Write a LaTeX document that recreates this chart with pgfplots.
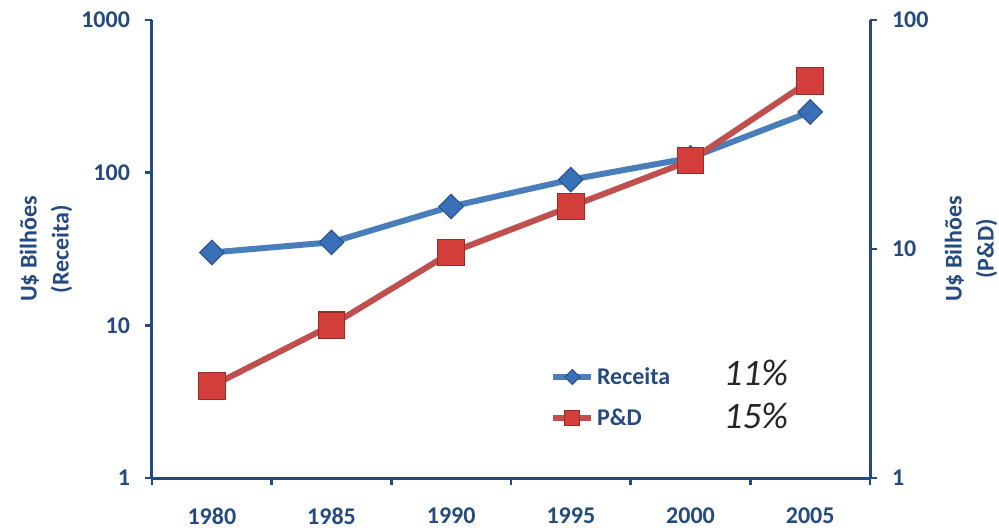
\documentclass[border=0pt]{standalone}
\usepackage{pgfplots}
\pgfplotsset{compat=1.18}
\usepackage{fontspec}
\setmainfont{Carlito}
\definecolor{axblue}{HTML}{254A80}
\definecolor{recline}{HTML}{4A7EBB}
\definecolor{recmark}{HTML}{3A70B8}
\definecolor{pdline}{HTML}{C0504D}
\definecolor{pdmark}{HTML}{D43F3C}
\definecolor{pctgray}{HTML}{262626}
\pgfplotsset{
 myaxisbase/.style={
  width=538.5pt, height=343.5pt, scale only axis,
  xmin=-0.5, xmax=5.5,
  axis line style={axblue, line width=2.25pt},
  every tick/.style={axblue, line width=2pt},
  major tick length=5pt,
  tick align=outside,
  yminorticks=false,
  tick label style={font=\fontsize{18}{21}\selectfont\bfseries, text=axblue},
  label style={font=\fontsize{18}{24}\selectfont\bfseries, text=axblue, align=center},
 }
}
\begin{document}
\begin{tikzpicture}
\begin{axis}[myaxisbase, ymode=log, name=ax,
  ymin=1, ymax=1000,
  axis x line*=bottom, axis y line*=left,
  xtick={-0.5,0.5,...,5.5}, x tick label as interval,
  xticklabels={1980,1985,1990,1995,2000,2005},
  xticklabel style={yshift=-14pt},
  ytick={1,10,100,1000}, yticklabels={1,10,100,1000},
  yticklabel style={xshift=-8pt},
  ylabel={U\$ Bilhões\\(Receita)},
  ylabel style={at={(axis description cs:-0.1476,0.5)}, anchor=center},
  legend style={at={(axis description cs:0.549,0.2533)}, anchor=north west,
    draw=none, fill=none, row sep=12.5pt,
    font=\fontsize{18}{21}\selectfont\bfseries, text=axblue},
  legend cell align=left,
]
\addplot[recline, line width=4.5pt, mark=square*, mark size=6.5pt,
  mark options={rotate=45, fill=recmark, draw=recmark!75!black, line width=0.8pt},
  legend image code/.code={\draw[mark repeat=2,mark phase=2, mark size=4pt] plot coordinates {(0cm,0cm)(0.5cm,0cm)(1cm,0cm)};}]
  coordinates {(0,30)(1,35)(2,60)(3,90)(4,125)(5,250)};
\addlegendentry{Receita}
\addplot[pdline, line width=4.5pt, mark=square*, mark size=10pt,
  mark options={fill=pdmark, draw=pdmark!70!black, line width=0.8pt},
  legend image code/.code={\draw[mark repeat=2,mark phase=2, mark size=5.6pt] plot coordinates {(0cm,0cm)(0.5cm,0cm)(1cm,0cm)};}]
  coordinates {(0,4)(1,10)(2,30)(3,60)(4,120)(5,400)};
\addlegendentry{P\&D}
\node[anchor=west, font=\fontsize{28}{30}\selectfont\itshape, text=pctgray] at (axis description cs:0.7895,0.229) {11\%};
\node[anchor=west, font=\fontsize{28}{30}\selectfont\itshape, text=pctgray] at (axis description cs:0.7895,0.1354) {15\%};
\end{axis}
\begin{axis}[myaxisbase, ymode=log,
  ymin=1, ymax=100,
  axis x line=none, axis y line*=right,
  ytick={1,10,100}, yticklabels={1,10,100},
  yticklabel style={xshift=8pt},
  ylabel={U\$ Bilhões\\(P\&D)},
  ylabel style={at={(axis description cs:1.1407,0.5)}, anchor=center},
]
\end{axis}
\pgfresetboundingbox
\path[use as bounding box] ([shift={(-114pt,-38.25pt)}]ax.south west) rectangle ([shift={(96.75pt,15pt)}]ax.north east);
\end{tikzpicture}
\end{document}
